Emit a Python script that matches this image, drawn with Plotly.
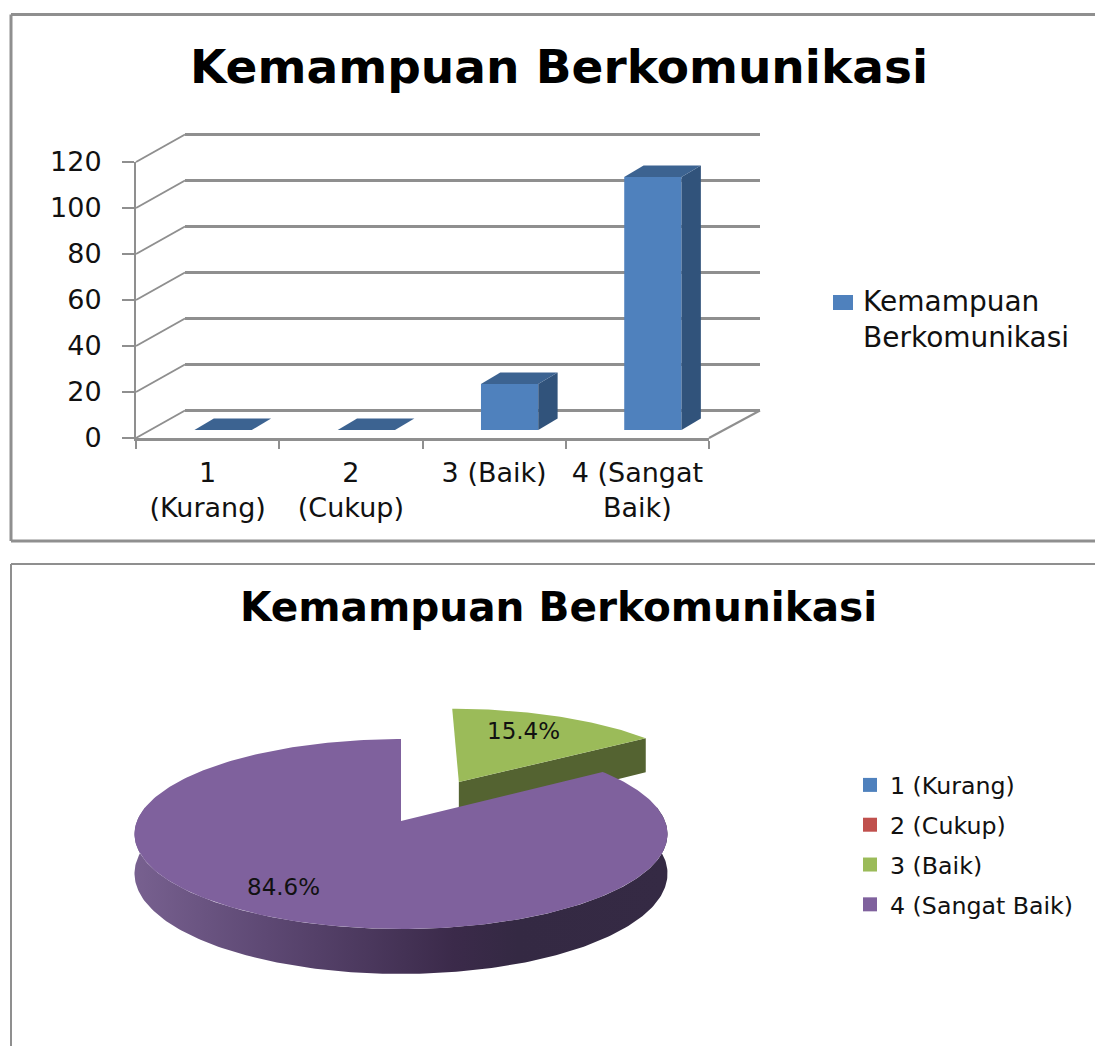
import numpy as np
import plotly.graph_objects as go

W, H = 1095, 1046
title_text = "Kemampuan Berkomunikasi"
categories = ["1 (Kurang)", "2 (Cukup)", "3 (Baik)", "4 (Sangat Baik)"]
tick_labels = ["1<br>(Kurang)", "2<br>(Cukup)", "3 (Baik)", "4 (Sangat<br>Baik)"]
bar_values = [0, 0, 20, 110]
pie_values = [0, 0, 20, 110]
y_ticks = [0, 20, 40, 60, 80, 100, 120]
pie_colors = ["#4f81bd", "#c0504d", "#9bbb59", "#7f619d"]

GRID = "#8f8f8f"
FONT = "DejaVu Sans"


def px(x):
    return x / W


def py(y):
    return 1 - y / H


fig = go.Figure()
xs = list(range(len(categories)))

# ---- axes -----------------------------------------------------------------
layout_axes = dict(
    xaxis=dict(domain=[px(136), px(709)], range=[-0.5, 3.5], tickvals=xs, ticktext=tick_labels,
               ticks="", showgrid=False, zeroline=False, showline=True, linecolor=GRID, linewidth=2.5,
               tickfont=dict(family=FONT, size=27, color="#111"), ticklabelstandoff=9,
               minor=dict(tickvals=[-0.5, 0.5, 1.5, 2.5, 3.5], ticks="outside", ticklen=8,
                          tickwidth=2, tickcolor=GRID),
               anchor="y", fixedrange=True, automargin=False),
    yaxis=dict(domain=[py(438), py(162)], range=[0, 120], tickvals=y_ticks, ticks="outside",
               ticklen=12, tickwidth=2, tickcolor=GRID, showgrid=False, zeroline=False,
               showline=True, linecolor=GRID, linewidth=2,
               tickfont=dict(family=FONT, size=27, color="#111"), ticklabelstandoff=15,
               anchor="x", fixedrange=True, automargin=False),
    # back wall, with its own gridlines (range padded so the 0 and 120 lines are kept)
    xaxis2=dict(domain=[px(185), px(760)], range=[0, 1], visible=False, anchor="y2", fixedrange=True,
                automargin=False),
    yaxis2=dict(domain=[py(412.8), py(131.7)], range=[-1, 121], tickvals=y_ticks, showgrid=True,
                gridcolor=GRID, gridwidth=2.5, zeroline=False, showline=False, ticks="",
                showticklabels=False, anchor="x2", fixedrange=True, automargin=False),
    # plane the bars stand in
    xaxis3=dict(domain=[px(151.5), px(724.5)], range=[-0.5, 3.5], visible=False, anchor="y3", fixedrange=True,
                automargin=False),
    yaxis3=dict(domain=[py(430), py(154)], range=[0, 120], visible=False, anchor="x3", fixedrange=True,
                automargin=False),
    # pixel plane for the tilted pie
    xaxis4=dict(domain=[0, 1], range=[0, W], visible=False, anchor="y4", fixedrange=True, automargin=False),
    yaxis4=dict(domain=[0, 1], range=[H, 0], visible=False, anchor="x4", fixedrange=True, automargin=False),
)

# invisible anchors so the axes are drawn
fig.add_trace(go.Scatter(x=[0], y=[0], mode="none", showlegend=False, hoverinfo="skip", xaxis="x", yaxis="y"))
fig.add_trace(go.Scatter(x=[0], y=[0], mode="none", showlegend=False, hoverinfo="skip", xaxis="x2", yaxis="y2"))

# ---- 3-D bars --------------------------------------------------------------
half = 0.2
depth_x = 0.135
depth_y = 5
for i, v in enumerate(bar_values):
    side_x = [i + half, i + half + depth_x, i + half + depth_x, i + half, i + half]
    side_y = [0, depth_y, v + depth_y, v, 0]
    fig.add_trace(go.Scatter(x=side_x, y=side_y, fill="toself", fillcolor="#31537b", mode="lines",
                             line=dict(width=0), showlegend=False, hoverinfo="skip", xaxis="x3", yaxis="y3"))
    top_x = [i - half, i + half, i + half + depth_x, i - half + depth_x, i - half]
    top_y = [v, v, v + depth_y, v + depth_y, v]
    fig.add_trace(go.Scatter(x=top_x, y=top_y, fill="toself", fillcolor="#3c6391", mode="lines",
                             line=dict(width=0), showlegend=False, hoverinfo="skip", xaxis="x3", yaxis="y3"))
fig.add_trace(go.Bar(x=xs, y=bar_values, width=2 * half, marker=dict(color="#4f81bd", line=dict(width=0)),
                     showlegend=False, hoverinfo="skip", xaxis="x3", yaxis="y3"))

# ---- 3-D pie ---------------------------------------------------------------
CX, CY, RX, RY, K, THICK = 401, 821, 264, 93.2, 0.137, 38.8
EXPLODE = 0.5


def project(u, v, drop=0.0):
    f = 1 / (1 + K * v)
    return CX + RX * u * f, CY - RY * v * f + drop * f


total = sum(pie_values)
green_end = np.radians(360 * pie_values[2] / total)
mid = green_end / 2
ou, ov = EXPLODE * np.sin(mid), EXPLODE * np.cos(mid)


def add_poly(x, y, color=None, gradient=None):
    kw = dict(fillgradient=gradient) if gradient else dict(fillcolor=color)
    fig.add_trace(go.Scatter(x=list(x), y=list(y), fill="toself", mode="lines", line=dict(width=0),
                             showlegend=False, hoverinfo="skip", xaxis="x4", yaxis="y4", **kw))


# exploded slice: its cut wall, then its top
vx, vy = project(ou, ov)
ex, ey = project(ou + np.sin(green_end), ov + np.cos(green_end))
vx2, vy2 = project(ou, ov, THICK)
ex2, ey2 = project(ou + np.sin(green_end), ov + np.cos(green_end), THICK)
add_poly([vx, ex, ex2, vx2, vx], [vy, ey, ey2, vy2, vy], "#546331")
t = np.linspace(0, green_end, 60)
gx, gy = project(ou + np.sin(t), ov + np.cos(t))
add_poly(np.r_[vx, gx, vx], np.r_[vy, gy, vy], pie_colors[2])

# large slice: rim, then top
t = np.linspace(np.pi / 2 - 0.15, 3 * np.pi / 2 + 0.15, 200)
tx, ty = project(np.sin(t), np.cos(t))
bx, by = project(np.sin(t), np.cos(t), THICK)
add_poly(np.r_[tx, bx[::-1], tx[0]], np.r_[ty, by[::-1], ty[0]],
         gradient=dict(type="horizontal", start=CX - RX, stop=CX + RX,
                       colorscale=[[0, "#77608f"], [0.25, "#5d4873"], [0.6, "#3b2a4a"], [0.72, "#342943"], [1, "#352a44"]]))
t = np.linspace(green_end, 2 * np.pi, 300)
px_, py_ = project(np.sin(t), np.cos(t))
cx0, cy0 = project(0.0, 0.0)
add_poly(np.r_[cx0, px_, cx0], np.r_[cy0, py_, cy0], pie_colors[3])

# legend entries for the slices
for name, color in zip(categories, pie_colors):
    fig.add_trace(go.Scatter(x=[None], y=[None], mode="markers", name=name, legend="legend2",
                             legendgroup=name, marker=dict(symbol="square", size=14, color=color),
                             xaxis="x4", yaxis="y4", hoverinfo="skip"))

# ---- frames, side wall and floor -------------------------------------------


def seg(x0, y0, x1, y1, width=2, color=GRID):
    return dict(type="line", xref="paper", yref="paper", x0=px(x0), y0=py(y0), x1=px(x1), y1=py(y1),
                line=dict(color=color, width=width), layer="below")


shapes = [
    seg(11, 14.5, W, 14.5, 3), seg(11, 14.5, 11, 541, 3), seg(11, 541, W, 541, 3),
    seg(11, 564, W, 564, 2), seg(11, 564, 11, H, 2),
    seg(709, 438, 760, 410.5),
    dict(type="rect", xref="paper", yref="paper", x0=px(833), x1=px(853), y0=py(310), y1=py(295),
         fillcolor="#4f81bd", line=dict(width=0)),
]
for tick in y_ticks:
    y_front = 438 - tick * 2.3
    shapes.append(seg(136, y_front, 185, y_front - 27.5))

# ---- texts -----------------------------------------------------------------
annotations = [
    dict(text=f"<b>{title_text}</b>", x=px(558.5), y=py(66), xref="paper", yref="paper", showarrow=False,
         xanchor="center", yanchor="middle", font=dict(family=FONT, size=47, color="#000")),
    dict(text=f"<b>{title_text}</b>", x=px(558), y=py(607), xref="paper", yref="paper", showarrow=False,
         xanchor="center", yanchor="middle", font=dict(family=FONT, size=40.6, color="#000")),
    dict(text=f"{100 * pie_values[2] / total:.1f}%", x=px(523), y=py(731), xref="paper", yref="paper",
         xanchor="center", yanchor="middle", showarrow=False, font=dict(family=FONT, size=23, color="#111")),
    dict(text=f"{100 * pie_values[3] / total:.1f}%", x=px(283), y=py(887), xref="paper", yref="paper",
         xanchor="center", yanchor="middle", showarrow=False, font=dict(family=FONT, size=23, color="#111")),
    dict(text="Kemampuan<br>Berkomunikasi", x=px(861), y=py(320), xref="paper", yref="paper",
         xanchor="left", yanchor="middle", align="left", showarrow=False,
         font=dict(family=FONT, size=28, color="#111")),
]

fig.update_layout(
    template="none",
    width=W, height=H, autosize=False, margin=dict(l=0, r=0, t=0, b=0, pad=0),
    paper_bgcolor="white", plot_bgcolor="rgba(0,0,0,0)", barmode="overlay",
    shapes=shapes, annotations=annotations, hovermode=False,
    showlegend=True,
    legend2=dict(x=px(850), y=py(763), xanchor="left", yanchor="top", bgcolor="rgba(0,0,0,0)",
                 font=dict(family=FONT, size=23.7, color="#111"), tracegroupgap=6,
                 itemclick=False, itemdoubleclick=False),
    **layout_axes,
)

fig.write_html("out.html", config=dict(displayModeBar=False),
               post_script="document.body.style.margin='0';document.body.style.overflow='hidden';")
